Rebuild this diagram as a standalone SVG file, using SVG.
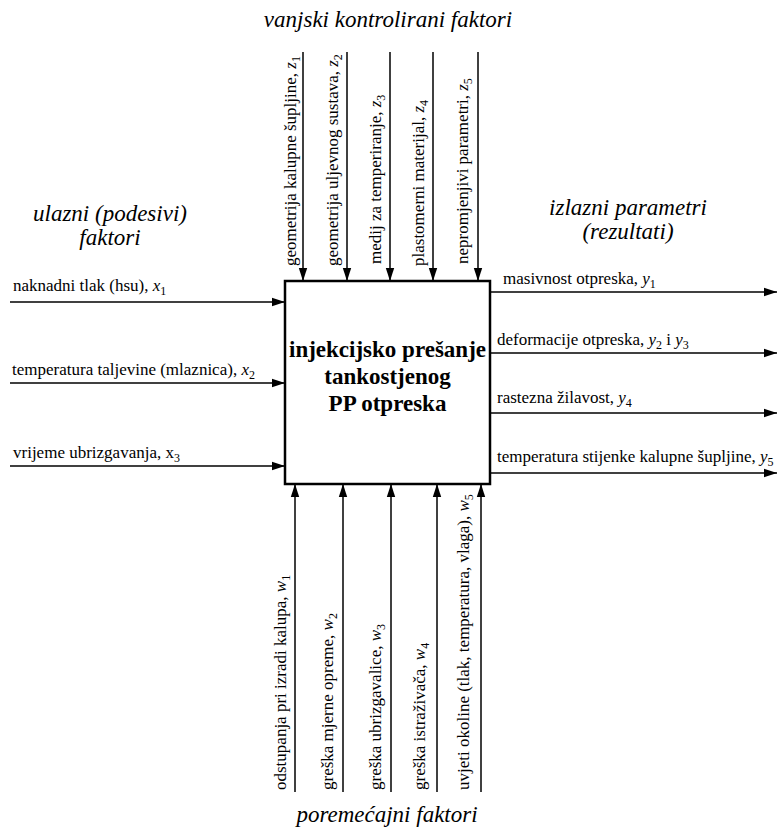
<svg xmlns="http://www.w3.org/2000/svg" width="781" height="829" viewBox="0 0 781 829">
<defs>
<marker id="ah" markerUnits="userSpaceOnUse" markerWidth="14" markerHeight="10" refX="13" refY="5" orient="auto">
<path d="M0,0.8 L13,5 L0,9.2 Z" fill="#000"/>
</marker>
</defs>
<rect width="781" height="829" fill="#fff"/>

<g id="titles">
<text x="388" y="27" font-size="23" font-family="Liberation Serif, serif" font-style="italic" text-anchor="middle">vanjski kontrolirani faktori</text>
<text x="110" y="221" font-size="23" font-family="Liberation Serif, serif" font-style="italic" text-anchor="middle">ulazni (podesivi)</text>
<text x="110" y="245" font-size="23" font-family="Liberation Serif, serif" font-style="italic" text-anchor="middle">faktori</text>
<text x="628" y="215" font-size="23" font-family="Liberation Serif, serif" font-style="italic" text-anchor="middle">izlazni parametri</text>
<text x="628" y="239" font-size="23" font-family="Liberation Serif, serif" font-style="italic" text-anchor="middle">(rezultati)</text>
<text x="387" y="822" font-size="23" font-family="Liberation Serif, serif" font-style="italic" text-anchor="middle">poremećajni faktori</text>
</g>

<g id="connectors" stroke="#000" stroke-width="1.5" fill="none" marker-end="url(#ah)">
<line x1="303" y1="52" x2="303" y2="281"/>
<line x1="347" y1="52" x2="347" y2="281"/>
<line x1="390" y1="52" x2="390" y2="281"/>
<line x1="433" y1="52" x2="433" y2="281"/>
<line x1="478" y1="52" x2="478" y2="281"/>
<line x1="10" y1="302" x2="285" y2="302"/>
<line x1="10" y1="383" x2="285" y2="383"/>
<line x1="10" y1="466" x2="285" y2="466"/>
<line x1="490" y1="292" x2="777" y2="292"/>
<line x1="490" y1="353" x2="777" y2="353"/>
<line x1="490" y1="413" x2="777" y2="413"/>
<line x1="490" y1="473" x2="777" y2="473"/>
<line x1="295" y1="792" x2="295" y2="484"/>
<line x1="343" y1="792" x2="343" y2="484"/>
<line x1="391" y1="792" x2="391" y2="484"/>
<line x1="437" y1="792" x2="437" y2="484"/>
<line x1="481" y1="792" x2="481" y2="484"/>
</g>

<g id="top-labels">
<text font-size="17" font-family="Liberation Serif, serif" transform="translate(296,266) rotate(-90)">geometrija kalupne šupljine, <tspan font-style="italic">z</tspan><tspan font-size="12" dy="4">1</tspan></text>
<text font-size="17" font-family="Liberation Serif, serif" transform="translate(338,266) rotate(-90)">geometrija uljevnog sustava, <tspan font-style="italic">z</tspan><tspan font-size="12" dy="4">2</tspan></text>
<text font-size="17" font-family="Liberation Serif, serif" transform="translate(381,264) rotate(-90)">medij za temperiranje, <tspan font-style="italic">z</tspan><tspan font-size="12" dy="4">3</tspan></text>
<text font-size="17" font-family="Liberation Serif, serif" transform="translate(424,266) rotate(-90)">plastomerni materijal, <tspan font-style="italic">z</tspan><tspan font-size="12" dy="4">4</tspan></text>
<text font-size="17" font-family="Liberation Serif, serif" transform="translate(468,264) rotate(-90)">nepromjenjivi parametri, <tspan font-style="italic">z</tspan><tspan font-size="12" dy="4">5</tspan></text>
</g>

<g id="left-labels">
<text font-size="17" font-family="Liberation Serif, serif" x="13" y="291">naknadni tlak (hsu), <tspan font-style="italic">x</tspan><tspan font-size="12" dy="4">1</tspan></text>
<text font-size="17" font-family="Liberation Serif, serif" x="12" y="375">temperatura taljevine (mlaznica), <tspan font-style="italic">x</tspan><tspan font-size="12" dy="4">2</tspan></text>
<text font-size="17" font-family="Liberation Serif, serif" x="13" y="458">vrijeme ubrizgavanja, x<tspan font-size="12" dy="4">3</tspan></text>
</g>

<g id="right-labels">
<text font-size="17" font-family="Liberation Serif, serif" x="503" y="284">masivnost otpreska, <tspan font-style="italic">y</tspan><tspan font-size="12" dy="4">1</tspan></text>
<text font-size="17" font-family="Liberation Serif, serif" x="497" y="345">deformacije otpreska, <tspan font-style="italic">y</tspan><tspan font-size="12" dy="4">2</tspan><tspan dy="-4"> i </tspan><tspan font-style="italic">y</tspan><tspan font-size="12" dy="4">3</tspan></text>
<text font-size="17" font-family="Liberation Serif, serif" x="497" y="403">rastezna žilavost, <tspan font-style="italic">y</tspan><tspan font-size="12" dy="4">4</tspan></text>
<text font-size="17" font-family="Liberation Serif, serif" x="497" y="462">temperatura stijenke kalupne šupljine, <tspan font-style="italic">y</tspan><tspan font-size="12" dy="4">5</tspan></text>
</g>

<g id="bottom-labels">
<text font-size="17" font-family="Liberation Serif, serif" transform="translate(286,790) rotate(-90)">odstupanja pri izradi kalupa, <tspan font-style="italic">w</tspan><tspan font-size="12" dy="4">1</tspan></text>
<text font-size="17" font-family="Liberation Serif, serif" transform="translate(333,790) rotate(-90)">greška mjerne opreme, <tspan font-style="italic">w</tspan><tspan font-size="12" dy="4">2</tspan></text>
<text font-size="17" font-family="Liberation Serif, serif" transform="translate(381,790) rotate(-90)">greška ubrizgavalice, <tspan font-style="italic">w</tspan><tspan font-size="12" dy="4">3</tspan></text>
<text font-size="17" font-family="Liberation Serif, serif" transform="translate(425,790) rotate(-90)">greška istraživača, <tspan font-style="italic">w</tspan><tspan font-size="12" dy="4">4</tspan></text>
<text font-size="17" font-family="Liberation Serif, serif" transform="translate(469,790) rotate(-90)">uvjeti okoline (tlak, temperatura, vlaga), <tspan font-style="italic">w</tspan><tspan font-size="12" dy="4">5</tspan></text>
</g>

<g id="process">
<rect x="285" y="281" width="205" height="203" fill="#fff" stroke="#000" stroke-width="2.5"/>
<text x="387.5" y="357" font-size="23" font-weight="bold" font-family="Liberation Serif, serif" text-anchor="middle">injekcijsko prešanje</text>
<text x="387.5" y="384" font-size="23" font-weight="bold" font-family="Liberation Serif, serif" text-anchor="middle">tankostjenog</text>
<text x="387.5" y="411" font-size="23" font-weight="bold" font-family="Liberation Serif, serif" text-anchor="middle">PP otpreska</text>
</g>
</svg>
